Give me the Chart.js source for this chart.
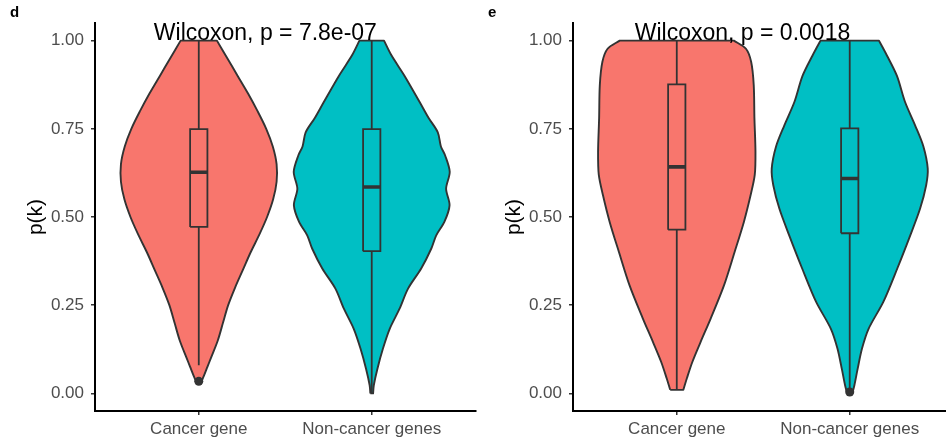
<!DOCTYPE html>
<html>
<head>
<meta charset="utf-8">
<script src="https://cdn.jsdelivr.net/npm/chart.js@4.4.0/dist/chart.umd.min.js"></script>
<style>
  body { margin: 0; width: 946px; height: 442px; overflow: hidden; background: #fff; position: relative; }
  .panel { position: absolute; top: 0; width: 480px; height: 442px; }
</style>
</head>
<body>
<div class="panel" style="left:0"><canvas id="panel-d" width="480" height="442"></canvas></div>
<div class="panel" style="left:478px"><canvas id="panel-e" width="480" height="442"></canvas></div>
<script>
// --- Data ---
const categories = ['Cancer gene', 'Non-cancer genes'];
const yTicks = [0, 0.25, 0.5, 0.75, 1];
const fillColors = ['#F8766D', '#00BFC4'];
const panelLabels = ['d', 'e'];
const pValueLabels = ['Wilcoxon, p = 7.8e-07', 'Wilcoxon, p = 0.0018'];
const pLabelX = [1.385, 1.38];
const pLabelY = [1.02, 1.02];

// violin outlines: p(k) levels and half widths (in category units)
const dCancerY = [0.034, 0.05, 0.075, 0.10, 0.15, 0.20, 0.25, 0.30, 0.35, 0.40, 0.45, 0.50, 0.55, 0.60, 0.65, 0.70, 0.75, 0.80, 0.85, 0.90, 0.95, 1.00];
const dCancerW = [0.016, 0.03, 0.05, 0.07, 0.11, 0.14, 0.17, 0.21, 0.255, 0.30, 0.35, 0.395, 0.43, 0.45, 0.45, 0.428, 0.39, 0.34, 0.285, 0.225, 0.165, 0.105];
const dNonY = [0.0, 0.023, 0.07, 0.127, 0.183, 0.24, 0.297, 0.354, 0.41, 0.448, 0.486, 0.533, 0.58, 0.628, 0.675, 0.70, 0.74, 0.78, 0.826, 0.90, 0.959, 1.0];
const dNonW = [0.008, 0.012, 0.033, 0.065, 0.104, 0.161, 0.21, 0.286, 0.344, 0.373, 0.42, 0.45, 0.43, 0.451, 0.424, 0.40, 0.382, 0.33, 0.277, 0.19, 0.113, 0.071];
const eCancerY = [0.01, 0.042, 0.089, 0.146, 0.212, 0.306, 0.40, 0.486, 0.56, 0.62, 0.685, 0.78, 0.874, 0.94, 0.977, 1.0];
const eCancerW = [0.038, 0.058, 0.09, 0.138, 0.196, 0.273, 0.334, 0.388, 0.426, 0.451, 0.455, 0.449, 0.445, 0.43, 0.40, 0.33];
const eNonY = [0.0, 0.023, 0.07, 0.127, 0.183, 0.26, 0.354, 0.448, 0.524, 0.59, 0.637, 0.70, 0.76, 0.826, 0.90, 0.958, 1.0];
const eNonW = [0.015, 0.027, 0.046, 0.071, 0.109, 0.195, 0.275, 0.35, 0.407, 0.442, 0.451, 0.426, 0.378, 0.32, 0.273, 0.215, 0.169];

// box stats: [lower whisker, q1, median, q3, upper whisker]
const dCancerBox = [0.08, 0.472, 0.627, 0.749, 1.0];
const dNonBox = [0.0, 0.403, 0.585, 0.749, 1.0];
const eCancerBox = [0.01, 0.464, 0.642, 0.876, 1.0];
const eNonBox = [0.01, 0.454, 0.609, 0.751, 1.0];
const dCancerOutliers = [0.034];
const dNonOutliers = [];
const eCancerOutliers = [];
const eNonOutliers = [0.004];

const BOX_HALF = 0.05;
const LINE = '#333333';
const FONT = "'Liberation Sans', Arial, Helvetica, sans-serif";

// --- Helpers ---
// outline of a trimmed violin; the end points are doubled so the flat ends keep sharp corners
function violinPoints(center, ys, ws) {
    const left = ys.map((y, i) => ({ x: center - ws[i], y: y }));
    const right = ys.map((y, i) => ({ x: center + ws[i], y: y })).reverse();
    const last = left.length - 1;
    return [
        left[0], ...left, left[last],
        right[0], ...right, right[last],
        left[0]
    ];
}

function lineSet(data, width, order, extra) {
    return Object.assign({
        data: data,
        showLine: true,
        borderColor: LINE,
        borderWidth: width,
        pointRadius: 0,
        fill: false,
        tension: 0,
        order: order
    }, extra || {});
}

function groupDatasets(center, ys, ws, box, outliers, color) {
    const [lo, q1, med, q3, hi] = box;
    return [
        lineSet(violinPoints(center, ys, ws), 1.9, 4, { fill: 'shape', backgroundColor: color, tension: 0.3, borderJoinStyle: 'round' }),
        lineSet([{ x: center, y: hi }, { x: center, y: q3 }], 1.8, 3),
        lineSet([{ x: center, y: q1 }, { x: center, y: lo }], 1.8, 3),
        lineSet([
            { x: center - BOX_HALF, y: q1 }, { x: center + BOX_HALF, y: q1 },
            { x: center + BOX_HALF, y: q3 }, { x: center - BOX_HALF, y: q3 },
            { x: center - BOX_HALF, y: q1 }
        ], 1.8, 2, { borderJoinStyle: 'miter' }),
        lineSet([{ x: center - BOX_HALF, y: med }, { x: center + BOX_HALF, y: med }], 3.6, 1),
        {
            data: outliers.map(v => ({ x: center, y: v })),
            showLine: false,
            pointRadius: 4.5,
            pointBackgroundColor: LINE,
            pointBorderWidth: 0,
            order: 0
        }
    ];
}

const labelPlugin = {
    id: 'panelText',
    afterDatasetsDraw(chart, args, opts) {
        const ctx = chart.ctx;
        const { x, y } = chart.scales;
        ctx.save();
        ctx.fillStyle = '#000';
        ctx.font = `bold 15px ${FONT}`;
        ctx.textAlign = 'left';
        ctx.textBaseline = 'alphabetic';
        ctx.fillText(opts.panel, 10, 17);
        ctx.font = `23px ${FONT}`;
        ctx.textAlign = 'center';
        ctx.textBaseline = 'middle';
        ctx.fillText(opts.pText, x.getPixelForValue(opts.px), y.getPixelForValue(opts.py));
        ctx.restore();
    }
};

function buildPanel(canvasId, idx, groups) {
    const datasets = [];
    groups.forEach((g, i) => datasets.push(...groupDatasets(i + 1, g.ys, g.ws, g.box, g.out, fillColors[i])));

    return new Chart(document.getElementById(canvasId), {
        type: 'scatter',
        data: { datasets: datasets },
        options: {
            responsive: false,
            animation: false,
            events: [],
            layout: { padding: { left: 0, right: 3, top: 23, bottom: 0 } },
            plugins: {
                legend: { display: false },
                tooltip: { enabled: false },
                panelText: { panel: panelLabels[idx], pText: pValueLabels[idx], px: pLabelX[idx], py: pLabelY[idx] }
            },
            scales: {
                x: {
                    type: 'linear',
                    min: 0.4,
                    max: 2.6,
                    afterBuildTicks: s => { s.ticks = categories.map((c, i) => ({ value: i + 1 })); },
                    afterFit: s => { s.height = 31; },
                    ticks: {
                        callback: v => categories[v - 1],
                        color: '#4D4D4D',
                        font: { family: FONT, size: 17 },
                        padding: 4,
                        maxRotation: 0,
                        autoSkip: false
                    },
                    grid: { drawOnChartArea: false, drawTicks: true, tickLength: 4, color: LINE, lineWidth: 1.5 },
                    border: { display: true, color: '#000', width: 2 }
                },
                y: {
                    type: 'linear',
                    min: -0.05,
                    max: 1.05,
                    afterBuildTicks: s => { s.ticks = yTicks.map(v => ({ value: v })); },
                    afterFit: s => { s.width = 95; },
                    ticks: {
                        callback: v => v.toFixed(2),
                        color: '#4D4D4D',
                        font: { family: FONT, size: 17 },
                        padding: 7
                    },
                    grid: { drawOnChartArea: false, drawTicks: true, tickLength: 4, color: LINE, lineWidth: 1.5 },
                    border: { display: true, color: '#000', width: 2 },
                    title: {
                        display: true,
                        text: 'p(k)',
                        color: '#000',
                        font: { family: FONT, size: 21 },
                        padding: { top: 24, bottom: 0 }
                    }
                }
            }
        },
        plugins: [labelPlugin]
    });
}

buildPanel('panel-d', 0, [
    { ys: dCancerY, ws: dCancerW, box: dCancerBox, out: dCancerOutliers },
    { ys: dNonY, ws: dNonW, box: dNonBox, out: dNonOutliers }
]);
buildPanel('panel-e', 1, [
    { ys: eCancerY, ws: eCancerW, box: eCancerBox, out: eCancerOutliers },
    { ys: eNonY, ws: eNonW, box: eNonBox, out: eNonOutliers }
]);
</script>
</body>
</html>
